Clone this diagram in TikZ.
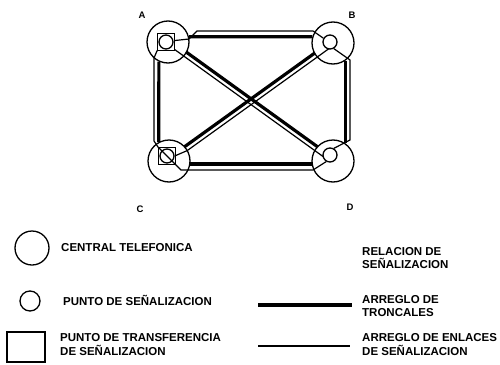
\documentclass[tikz,border=0pt]{standalone}
\usepackage{fontspec}
\setmainfont{Liberation Sans}
\usetikzlibrary{calc}
\pgfdeclarelayer{background}
\pgfsetlayers{background,main}
\begin{document}
\begin{tikzpicture}[x=1pt,y=-1pt,
  exch/.style={draw, circle, minimum size=42pt, inner sep=0pt, line width=1.3pt},
  spt/.style={draw, circle, fill=white, minimum size=14pt, inner sep=0pt, line width=1.3pt},
  stpbox/.style={draw, rectangle, fill=white, minimum size=17pt, inner sep=0pt, line width=1.2pt},
  trunk/.style={line width=3.2pt},
  link/.style={line width=1.2pt},
  lbl/.style={font=\fontsize{11.5}{14}\selectfont\bfseries, inner sep=0pt, anchor=base west},
  cornerlbl/.style={font=\fontsize{9.5}{11}\selectfont\bfseries, inner sep=0pt}]
\useasboundingbox (0,0) rectangle (500,364);

% exchanges
\node[exch] (A) at (168,42) {};
\node[exch] (B) at (333,43) {};
\node[exch] (C) at (169,161) {};
\node[exch] (D) at (333,161) {};
% signalling transfer points
\node[stpbox] (qa) at (166,42) {};
\node[stpbox] (qc) at (167,156) {};
% signalling points
\node[spt] (sa) at (166,42) {};
\node[spt] (sb) at (330,42) {};
\node[spt] (sc) at (167,156) {};
\node[spt] (sd) at (330,155) {};

% corner labels
\node[cornerlbl] (la) at (142,15) {A};
\node[cornerlbl] (lb) at (352,15) {B};
\node[cornerlbl] (lc) at (140,209) {C};
\node[cornerlbl] (ld) at (350,207) {D};

\begin{pgfonlayer}{background}
% trunk groups
\draw[trunk] (A.14) -- (B.163);
\draw[trunk] (A.245) -- (C.118);
\draw[trunk] (B.305) -- (D.55);
\draw[trunk] (C.352) -- (D.188);
\draw[trunk, shorten <=20.85pt, shorten >=20.85pt] ($(A)!2.5pt!90:(D)$) -- ($(D)!2.5pt!-90:(A)$);
\draw[trunk, shorten <=20.85pt, shorten >=20.85pt] ($(B)!2.5pt!-90:(C)$) -- ($(C)!2.5pt!90:(B)$);
% signalling links
\draw[link] (sa.10) -- (189,39) -- (197,31) -- (313,31) -- (sb.150);
\draw[link] (sa.225) -- (qa.south west) -- (154,58) -- (154,141) -- (qc.north west);
\draw[link] (sb.300) -- (350,60) -- (350,140) -- (sd.60);
\draw[link, shorten >=8pt] ($(A)!2.2pt!-90:(D)$) -- ($(D)!2.2pt!90:(A)$);
\coordinate (bc1) at ($(B)!2.2pt!90:(C)$);
\coordinate (bc2) at ($(C)!2.2pt!-90:(B)$);
\coordinate (bcE) at ($(bc2)!20.9pt!(bc1)$);
\draw[link] (bc1) -- (bcE) -- (sc.east);
\end{pgfonlayer}
\draw[link] (qc.north west) -- (181,170) -- (313,170) -- (sd.240);

% legend
\node[draw, circle, minimum size=34pt, inner sep=0pt, line width=1.3pt] (lgct) at (32,248) {};
\node[lbl] (tct) at (61,251) {CENTRAL TELEFONICA};
\node[draw, circle, minimum size=20pt, inner sep=0pt, line width=1.3pt] (lgsp) at (30,301) {};
\node[lbl] (tsp) at (63,305) {PUNTO DE SEÑALIZACION};
\node[draw, rectangle, minimum width=38pt, minimum height=30pt, inner sep=0pt, line width=1.3pt] (lgstp) at (26,347) {};
\node[lbl] (tstpa) at (60,341) {PUNTO DE TRANSFERENCIA};
\node[lbl] (tstpb) at (60,355) {DE SEÑALIZACION};

\node[lbl] (tra) at (362,255) {RELACION DE};
\node[lbl] (trb) at (362,268) {SEÑALIZACION};
\coordinate (lta) at (258,305);
\coordinate (ltb) at (352,305);
\draw[trunk, line width=3.6pt] (lta) -- (ltb);
\node[lbl] (tta) at (362,303) {ARREGLO DE};
\node[lbl] (ttb) at (362,316) {TRONCALES};
\coordinate (lla) at (258,346);
\coordinate (llb) at (350,346);
\draw[link] (lla) -- (llb);
\node[lbl] (tea) at (362,341) {ARREGLO DE ENLACES};
\node[lbl] (teb) at (362,355) {DE SEÑALIZACION};
\end{tikzpicture}
\end{document}
